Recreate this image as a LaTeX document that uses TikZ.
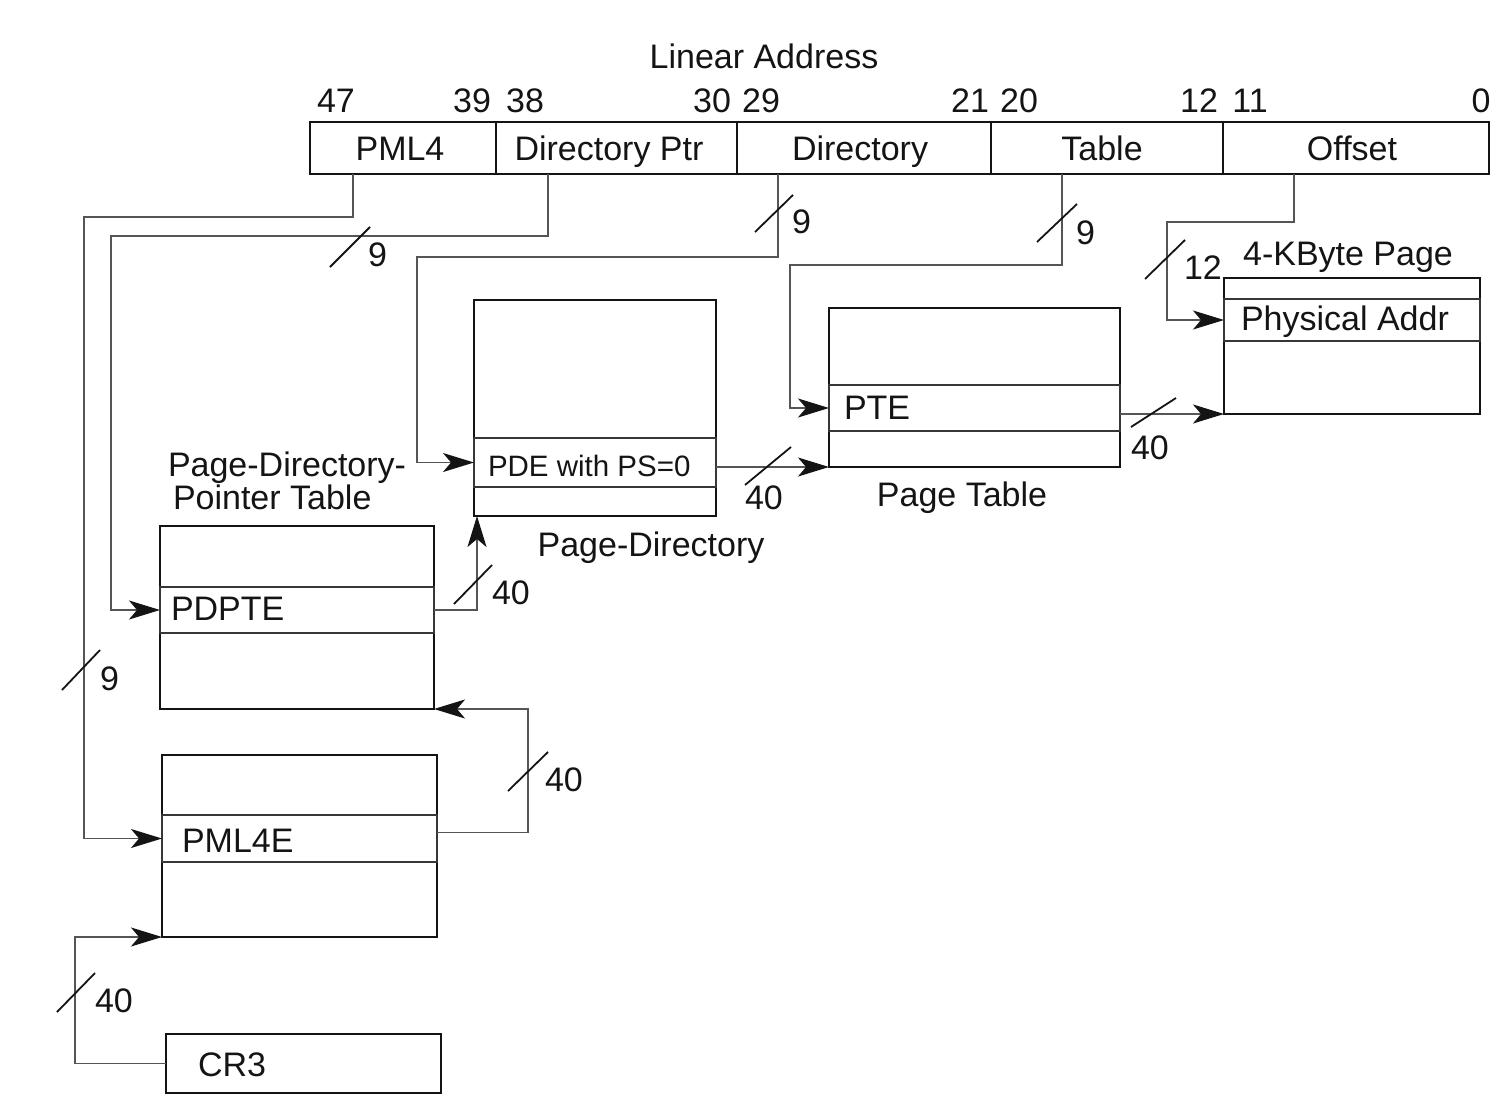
\documentclass[tikz,border=0pt]{standalone}
\usepackage{fontspec}
\setmainfont{Liberation Sans}
\usetikzlibrary{arrows.meta}
\definecolor{ink}{HTML}{141414}
\definecolor{wire}{HTML}{555555}
\begin{document}
\begin{tikzpicture}[x=1pt,y=-1pt,
  every node/.style={font=\fontsize{34}{36}\selectfont, text=ink, inner sep=0pt, outer sep=0pt},
  field/.style={draw=ink, line width=2pt, minimum height=52pt},
  tablebox/.style={draw=ink, line width=2.2pt},
  rowbox/.style={draw=ink!85, line width=1.6pt},
  conn/.style={draw=wire, line width=1.8pt},
  tip/.style={-{Stealth[length=31pt,width=19pt,inset=8pt,color=ink]}},
  busmark/.style={draw=ink, line width=1.8pt},
  txt/.style={anchor=base},
  ltxt/.style={anchor=base west},
  small/.style={font=\fontsize{29.5}{32}\selectfont}
]
\useasboundingbox (0,0) rectangle (1512,1111);

% ---- linear address fields ----
\node[txt] (lin) at (764,68) {Linear Address};
\node[field, minimum width=186pt] (fpml4)   at (403,148)   {};
\node[field, minimum width=241pt] (fdirptr) at (616.5,148) {};
\node[field, minimum width=254pt] (fdir)    at (864,148)   {};
\node[field, minimum width=232pt] (ftable)  at (1107,148)  {};
\node[field, minimum width=266pt] (foffset) at (1356,148)  {};
\node[txt] (lpml4)   at (400,160)  {PML4};
\node[txt] (ldirptr) at (609,160)  {Directory Ptr};
\node[txt] (ldir)    at (860,160)  {Directory};
\node[txt] (ltable)  at (1102,160) {Table};
\node[txt] (loffset) at (1352,160) {Offset};

% bit positions
\node[txt] (b47) at (336,112) {47};
\node[txt] (b39) at (472,112) {39};
\node[txt] (b38) at (525,112) {38};
\node[txt] (b30) at (712,112) {30};
\node[txt] (b29) at (761,112) {29};
\node[txt] (b21) at (970,112) {21};
\node[txt] (b20) at (1019,112) {20};
\node[txt] (b12) at (1199,112) {12};
\node[txt] (b11) at (1250,112) {11};
\node[txt] (b0)  at (1481,112) {0};

% ---- tables ----
% page directory
\node[tablebox, minimum width=242pt, minimum height=216pt] (pdtab) at (595,408) {};
\node[rowbox, minimum width=242pt, minimum height=49pt] (pde) at (595,462.5) {};
\node[ltxt, small] (pdetxt) at (488,476) {PDE with PS=0};
\node[txt] (pdcap) at (651,556) {Page-Directory};

% page table
\node[tablebox, minimum width=291pt, minimum height=159pt] (pttab) at (974.5,387.5) {};
\node[rowbox, minimum width=291pt, minimum height=46pt] (pte) at (974.5,408) {};
\node[ltxt] (ptetxt) at (844,419) {PTE};
\node[txt] (ptcap) at (962,506) {Page Table};

% 4-KByte page
\node[tablebox, minimum width=256pt, minimum height=136pt] (page) at (1352,346) {};
\node[rowbox, minimum width=256pt, minimum height=42pt] (phys) at (1352,320) {};
\node[ltxt] (phystxt) at (1241,330) {Physical Addr};
\node[txt] (pagecap) at (1348,265) {4-KByte Page};

% page-directory-pointer table
\node[tablebox, minimum width=274pt, minimum height=183pt] (pdpt) at (297,617.5) {};
\node[rowbox, minimum width=274pt, minimum height=46pt] (pdpte) at (297,610) {};
\node[ltxt] (pdptetxt) at (171,620) {PDPTE};
\node[ltxt] (pdptcap1) at (168,476) {Page-Directory-};
\node[ltxt] (pdptcap2) at (173,509) {Pointer Table};

% PML4 table
\node[tablebox, minimum width=275pt, minimum height=182pt] (pml4tab) at (299.5,846) {};
\node[rowbox, minimum width=275pt, minimum height=47pt] (pml4e) at (299.5,838.5) {};
\node[ltxt] (pml4etxt) at (182,852) {PML4E};

% CR3
\node[tablebox, minimum width=275pt, minimum height=59pt] (cr3) at (303.5,1063.5) {};
\node[ltxt] (cr3txt) at (198,1076) {CR3};

% ---- index connectors from the linear address ----
\draw[conn,tip] ([xshift=43pt]fpml4.south west) |- (84,217) |- (pml4e.west);
\draw[conn,tip] ([xshift=52pt]fdirptr.south west) |- (111,236) |- (pdpte.west);
\draw[conn,tip] ([xshift=41pt]fdir.south west) |- (417,257) |- (pde.west);
\draw[conn,tip] ([xshift=71pt]ftable.south west) |- (790,265) |- (pte.west);
\draw[conn,tip] ([xshift=71pt]foffset.south west) |- (1167,222) |- (phys.west);

% ---- base address connectors ----
\draw[conn,tip] (cr3.west) -| (75,937) -- (pml4tab.south west);
\draw[conn,tip] ([yshift=6pt]pml4e.east) -| (528,709) -- (pdpt.south east);
\draw[conn,tip] (pdpte.east) -| ([xshift=3pt]pdtab.south west);
\draw[conn,tip] (pde.east |- pttab.south west) -- (pttab.south west);
\draw[conn,tip] (pte.east |- page.south west) -- (page.south west);

% ---- bus width marks ----
\draw[busmark] (62,690) -- (100,650);
\node[ltxt] (w1) at (100,690) {9};
\draw[busmark] (330,267) -- (370,227);
\node[ltxt] (w2) at (368,266) {9};
\draw[busmark] (755,232) -- (793,195);
\node[ltxt] (w3) at (792,233) {9};
\draw[busmark] (1037,242) -- (1077,204);
\node[ltxt] (w4) at (1076,244) {9};
\draw[busmark] (1145,279) -- (1185,240);
\node[ltxt] (w5) at (1184,279) {12};
\draw[busmark] (1131,427) -- (1176,398);
\node[ltxt] (w6) at (1131,459) {40};
\draw[busmark] (745,485) -- (791,447);
\node[ltxt] (w7) at (745,509) {40};
\draw[busmark] (454,604) -- (492,565);
\node[ltxt] (w8) at (492,604) {40};
\draw[busmark] (508,791) -- (548,752);
\node[ltxt] (w9) at (545,791) {40};
\draw[busmark] (57,1012) -- (95,973);
\node[ltxt] (w10) at (95,1012) {40};
\end{tikzpicture}
\end{document}
